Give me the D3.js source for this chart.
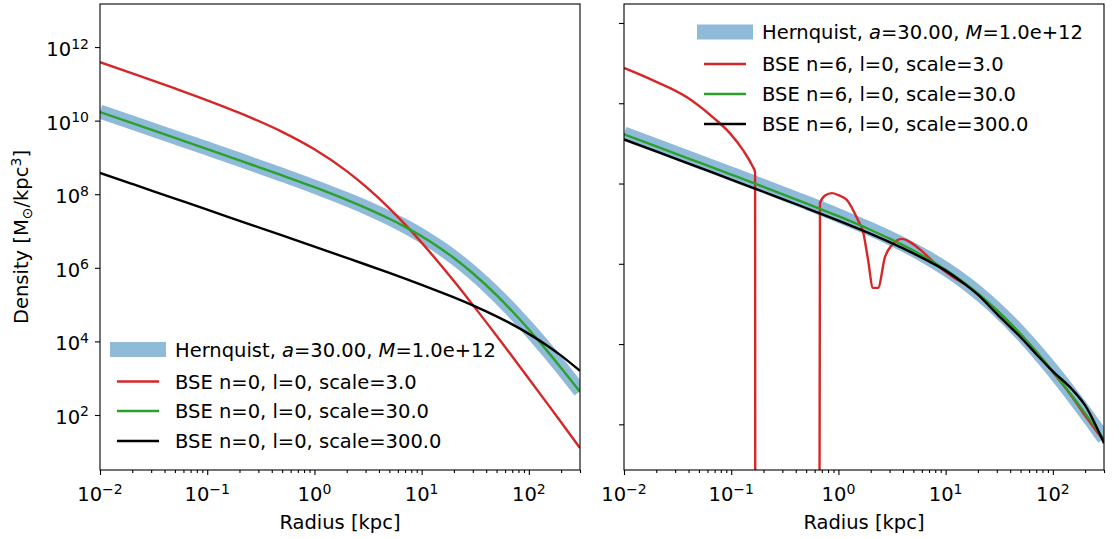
<!DOCTYPE html>
<html>
<head>
<meta charset="utf-8">
<script src="https://cdn.jsdelivr.net/npm/d3@7"></script>
<style>
  body { margin: 0; background: #fff; }
  svg { font-family: "DejaVu Sans", sans-serif; font-size: 19.5px; }
  .tick line { stroke: #000; stroke-width: 1.1; }
</style>
</head>
<body>
<svg id="fig" width="1119" height="539"></svg>
<script>
/* global d3 */

// radius grid in kpc (x axis, both panels)
var radii = [0.01, 0.02, 0.05, 0.1, 0.2, 0.5, 1, 2, 3, 5, 7, 10, 15, 20, 30, 50, 70, 100, 150, 200, 300];

// log10 density values
var hernquist = [10.247, 9.946, 9.546, 9.243, 8.938, 8.527, 8.205, 7.862, 7.646, 7.348, 7.129, 6.873, 6.543, 6.281, 5.867, 5.271, 4.834, 4.337, 3.737, 3.293, 2.646];

var n0Scale3 = [11.590, 11.285, 10.874, 10.552, 10.209, 9.695, 9.220, 8.628, 8.214, 7.618, 7.181, 6.684, 6.084, 5.640, 4.993, 4.154, 3.591, 2.987, 2.296, 1.802, 1.104];
var n0Scale30 = [10.232, 9.931, 9.531, 9.228, 8.923, 8.512, 8.190, 7.847, 7.631, 7.333, 7.114, 6.858, 6.528, 6.266, 5.852, 5.256, 4.819, 4.322, 3.722, 3.278, 2.631];
var n0Scale300 = [8.580, 8.279, 7.881, 7.580, 7.278, 6.879, 6.576, 6.270, 6.090, 5.860, 5.705, 5.537, 5.340, 5.195, 4.979, 4.680, 4.462, 4.205, 3.876, 3.614, 3.200];

var n6Scale30 = [10.227, 9.926, 9.526, 9.223, 8.918, 8.507, 8.185, 7.842, 7.626, 7.328, 7.109, 6.853, 6.523, 6.261, 5.847, 5.251, 4.814, 4.317, 3.717, 3.273, 2.626];
var n6Scale300 = [10.100, 9.800, 9.400, 9.100, 8.795, 8.390, 8.075, 7.745, 7.540, 7.260, 7.060, 6.830, 6.500, 6.230, 5.750, 5.170, 4.750, 4.320, 3.880, 3.470, 2.530];

// the scale=3 n=6 expansion has its own radii; null = density went negative
var n6Scale3Radii = [0.01, 0.0187, 0.0387, 0.0676, 0.0975, 0.129, 0.156, 0.167, 0.168, 0.66, 0.673, 0.75, 0.871, 1.0, 1.2, 1.52, 1.7, 1.89, 2.1, 2.34, 2.72, 3.16, 3.92, 4.66, 6.15, 8.31, 11.7, 16.9, 20, 30, 50, 70, 100, 150, 200, 300];
var n6Scale3 = [11.88, 11.57, 11.15, 10.65, 10.25, 9.83, 9.46, 9.28, null, null, 8.51, 8.70, 8.76, 8.71, 8.59, 8.09, 7.79, 7.10, 6.40, 6.40, 7.17, 7.47, 7.62, 7.54, 7.29, 6.97, 6.67, 6.40, 6.24, 5.84, 5.24, 4.80, 4.30, 3.70, 3.22, 2.58];

var xMajor = [-2, -1, 0, 1, 2];
var yMajorLeft = [2, 4, 6, 8, 10, 12];
var yMajorRight = [3, 5, 7, 9, 11, 13];

var scaleLabels = ["3.0", "30.0", "300.0"];
var colors = ["#d62728", "#2ca02c", "#000000"];
var bandColor = "#1f77b4";

var svg = d3.select("#fig");
var marginTop = 4, innerHeight = 466, innerWidth = 480;

function pairs(xs, ys) {
  return xs.map(function(r, i) { return [r, ys[i]]; });
}

function powText(sel, e) {
  sel.append("tspan").text("10");
  sel.append("tspan").attr("dy", -7.5).attr("font-size", 14)
    .text(e < 0 ? "\u2212" + (-e) : e);
}

function panel(opts) {
  var g = svg.append("g")
      .attr("transform", "translate(" + opts.left + "," + marginTop + ")");

  var x = d3.scaleLog().domain([0.01, 300]).range([0, innerWidth]);
  var y = d3.scaleLog().domain(opts.yDomain).range([innerHeight, 0]);

  var clipId = "clip" + opts.left;
  g.append("clipPath").attr("id", clipId)
    .append("rect").attr("width", innerWidth).attr("height", innerHeight);

  var line = d3.line()
      .x(function(d) { return x(d[0]); })
      .y(function(d) { return d[1] === null ? innerHeight + 300 : y(Math.pow(10, d[1])); })
      .curve(d3.curveMonotoneX);

  var plot = g.append("g").attr("clip-path", "url(#" + clipId + ")");

  plot.append("path")
      .attr("d", line(pairs(radii, hernquist)))
      .attr("fill", "none")
      .attr("stroke", bandColor)
      .attr("stroke-opacity", 0.5)
      .attr("stroke-width", 14);

  opts.series.forEach(function(s, i) {
    plot.append("path")
        .attr("d", line(s))
        .attr("fill", "none")
        .attr("stroke", colors[i])
        .attr("stroke-width", 2.4)
        .attr("stroke-linejoin", "round");
  });

  // x axis: major + minor ticks
  var minors = [];
  [-2, -1, 0, 1, 2].forEach(function(e) {
    for (var k = 2; k <= 9; k++) {
      var v = k * Math.pow(10, e);
      if (v <= 300) minors.push(v);
    }
  });
  g.append("g")
      .attr("transform", "translate(0," + innerHeight + ")")
      .call(d3.axisBottom(x).tickValues(minors).tickSize(3).tickFormat(""))
      .call(function(a) { a.select(".domain").remove(); });
  g.append("g")
      .attr("transform", "translate(0," + innerHeight + ")")
      .call(d3.axisBottom(x).tickValues(xMajor.map(function(e) { return Math.pow(10, e); }))
        .tickSize(5).tickFormat(""))
      .call(function(a) { a.select(".domain").remove(); });

  xMajor.forEach(function(e) {
    g.append("text")
        .attr("x", x(Math.pow(10, e)))
        .attr("y", innerHeight + 31)
        .attr("text-anchor", "middle")
        .call(powText, e);
  });

  // y axis
  g.append("g")
      .call(d3.axisLeft(y).tickValues(opts.yTicks.map(function(e) { return Math.pow(10, e); }))
        .tickSize(5).tickFormat(""))
      .call(function(a) { a.select(".domain").remove(); });

  if (opts.yLabels) {
    opts.yTicks.forEach(function(e) {
      g.append("text")
          .attr("x", -11)
          .attr("y", y(Math.pow(10, e)) + 9)
          .attr("text-anchor", "end")
          .call(powText, e);
    });
  }

  // spines
  g.append("rect")
      .attr("width", innerWidth)
      .attr("height", innerHeight)
      .attr("fill", "none")
      .attr("stroke", "#000")
      .attr("stroke-width", 1.1);

  svg.append("text")
      .attr("x", opts.left + innerWidth / 2)
      .attr("y", 529)
      .attr("text-anchor", "middle")
      .text("Radius [kpc]");

  // legend, no frame
  var lg = svg.append("g");
  var lx = opts.legend.x, ly = opts.legend.rows;
  lg.append("line")
      .attr("x1", lx).attr("x2", lx + 56)
      .attr("y1", ly[0]).attr("y2", ly[0])
      .attr("stroke", bandColor).attr("stroke-opacity", 0.5)
      .attr("stroke-width", 15);
  var t0 = lg.append("text").attr("x", lx + 65).attr("y", ly[0] + 7);
  t0.append("tspan").text("Hernquist, ");
  t0.append("tspan").attr("font-style", "italic").text("a");
  t0.append("tspan").text("=30.00, ");
  t0.append("tspan").attr("font-style", "italic").text("M");
  t0.append("tspan").text("=1.0e+12");

  scaleLabels.forEach(function(s, i) {
    lg.append("line")
        .attr("x1", lx + 7).attr("x2", lx + 49)
        .attr("y1", ly[i + 1]).attr("y2", ly[i + 1])
        .attr("stroke", colors[i]).attr("stroke-width", 2.4);
    lg.append("text")
        .attr("x", lx + 65).attr("y", ly[i + 1] + 7)
        .text("BSE n=" + opts.n + ", l=0, scale=" + s);
  });
}

panel({
  left: 100,
  yDomain: [Math.pow(10, 0.505), Math.pow(10, 13.17)],
  yTicks: yMajorLeft,
  yLabels: true,
  n: 0,
  series: [pairs(radii, n0Scale3), pairs(radii, n0Scale30), pairs(radii, n0Scale300)],
  legend: {x: 110, rows: [349.5, 381.5, 411, 441]}
});

panel({
  left: 624,
  yDomain: [Math.pow(10, 1.862), Math.pow(10, 13.473)],
  yTicks: yMajorRight,
  yLabels: false,
  n: 6,
  series: [pairs(n6Scale3Radii, n6Scale3), pairs(radii, n6Scale30), pairs(radii, n6Scale300)],
  legend: {x: 697, rows: [32, 64, 94, 124]}
});

// y label with solar subscript and cubed kpc
var yl = svg.append("text")
    .attr("transform", "translate(28,237) rotate(-90)")
    .attr("text-anchor", "middle");
yl.append("tspan").text("Density [M");
yl.append("tspan").attr("dy", 4).attr("font-size", 14).text("\u2299");
yl.append("tspan").attr("dy", -4).text("/kpc");
yl.append("tspan").attr("dy", -7.5).attr("font-size", 14).text("3");
yl.append("tspan").attr("dy", 7.5).text("]");
</script>
</body>
</html>
